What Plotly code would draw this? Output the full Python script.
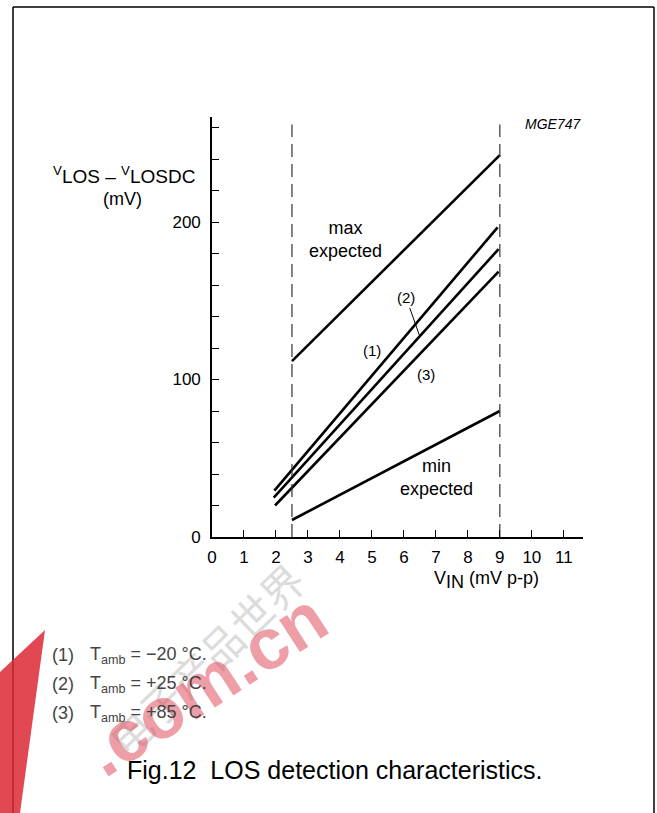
import plotly.graph_objects as go

# ---- data ----
x_curve1 = [1.95, 8.93]
y_curve1 = [29.4, 196.6]
x_curve2 = [1.93, 8.96]
y_curve2 = [25.0, 182.8]
x_curve3 = [1.97, 8.96]
y_curve3 = [20.0, 168.5]
x_max = [2.5, 9.0]
y_max = [111.7, 242.5]
x_min = [2.5, 9.0]
y_min = [10.8, 80.0]
limit_x = [2.5, 9.0]
limit_top = 262
x_ticks = list(range(0, 12))
y_ticks = [0, 100, 200]
legend_lines = ["(1)", "(2)", "(3)"]
legend_temps = ["\u221220", "+25", "+85"]

W, H = 657, 813
L, T = 212, 117
PW, PH = 371, 420
XR = [0, 11.6]
YR = [0, 266.7]


def px(x):
    """page pixel x -> paper x"""
    return (x - L) / PW


def py(y):
    """page pixel y -> paper y"""
    return (T + PH - y) / PH


FONT = "Arial, 'Liberation Sans', sans-serif"


def ptext(x, y, text, size, color="black", xanchor="center", **kw):
    return dict(xref="paper", yref="paper", x=px(x), y=py(y), text=text,
                showarrow=False, xanchor=xanchor, yanchor="middle",
                font=dict(size=size, family=FONT, color=color), **kw)


fig = go.Figure()
lw = 2.6
for xs, ys in [(x_curve1, y_curve1), (x_curve2, y_curve2), (x_curve3, y_curve3),
               (x_max, y_max), (x_min, y_min)]:
    fig.add_trace(go.Scatter(x=xs, y=ys, mode="lines",
                             line=dict(color="black", width=lw), showlegend=False))
for lx in limit_x:
    fig.add_trace(go.Scatter(x=[lx, lx], y=[0, limit_top], mode="lines",
                             line=dict(color="#333", width=1.2, dash="13px,7px"),
                             showlegend=False))

annotations = []
# watermark (drawn first, beneath text)
annotations.append(dict(xref="paper", yref="paper", x=px(205), y=py(658),
                        xanchor="center", yanchor="middle",
                        text="\u7535\u5b50\u4ea7\u54c1\u4e16\u754c", showarrow=False,
                        textangle=-44, opacity=0.25,
                        font=dict(size=42, family="'Noto Sans CJK SC'", color="#777")))
annotations.append(dict(xref="paper", yref="paper", x=px(205), y=py(684),
                        xanchor="center", yanchor="middle",
                        text="<b>.com.cn</b>", showarrow=False, textangle=-33,
                        opacity=0.55,
                        font=dict(size=72, family=FONT, color="#e0505e")))
# in-plot labels
annotations.append(dict(x=4.16, y=188.6, text="max<br>expected", showarrow=False,
                        font=dict(size=18, family=FONT, color="black")))
annotations.append(dict(x=7.03, y=37.5, text="min<br>expected", showarrow=False,
                        font=dict(size=18, family=FONT, color="black")))
annotations.append(dict(x=5.0, y=118.7, text="(1)", showarrow=False,
                        font=dict(size=15, family=FONT, color="black")))
annotations.append(dict(x=6.70, y=103.5, text="(3)", showarrow=False,
                        font=dict(size=15, family=FONT, color="black")))
annotations.append(dict(x=6.48, y=128.3, text="(2)", showarrow=True, arrowhead=0,
                        arrowwidth=1, arrowcolor="black", ax=-13, ay=-37,
                        font=dict(size=15, family=FONT, color="black")))
# outside texts
annotations.append(ptext(553, 124, "<i>MGE747</i>", 14))
annotations.append(ptext(124, 175, "<sup>V</sup>LOS \u2013 <sup>V</sup>LOSDC", 19))
annotations.append(ptext(122, 199, "(mV)", 18))
annotations.append(ptext(486, 580,
                         "V<sub><span style='font-size:18px'>IN</span></sub> (mV p-p)", 18))
for i, (lab, temp) in enumerate(zip(legend_lines, legend_temps)):
    yy = 655 + i * 29
    annotations.append(ptext(50, yy, lab, 18, color="#444", xanchor="left"))
    annotations.append(ptext(88, yy, "T<sub>amb</sub> = " + temp + " \u00b0C.", 18,
                             color="#444", xanchor="left"))
annotations.append(ptext(334, 770, "Fig.12  LOS detection characteristics.", 25))

shapes = [
    dict(type="line", xref="paper", yref="paper", x0=px(13), x1=px(654),
         y0=py(7), y1=py(7), line=dict(color="black", width=1.5)),
    dict(type="line", xref="paper", yref="paper", x0=px(13), x1=px(13),
         y0=py(7), y1=py(813), line=dict(color="black", width=1.5)),
    dict(type="line", xref="paper", yref="paper", x0=px(654), x1=px(654),
         y0=py(7), y1=py(813), line=dict(color="black", width=1.5)),
    dict(type="path", xref="paper", yref="paper",
         path=f"M {px(0)} {py(672)} L {px(45)} {py(630)} L {px(20)} {py(813)} L {px(0)} {py(813)} Z",
         fillcolor="rgba(220,40,50,0.85)", line=dict(width=0), layer="above"),
]

fig.update_layout(
    width=W, height=H,
    margin=dict(l=L, r=W - L - PW, t=T, b=H - T - PH),
    paper_bgcolor="white", plot_bgcolor="white",
    annotations=annotations, shapes=shapes,
    xaxis=dict(range=XR, tickvals=x_ticks, ticks="inside", ticklen=7, tickwidth=1.3,
               tickcolor="black", showline=True, linecolor="black", linewidth=1.6,
               showgrid=False, zeroline=False, ticklabelstandoff=4,
               tickfont=dict(size=17, family=FONT, color="black")),
    yaxis=dict(range=YR, tickvals=y_ticks, ticks="inside", ticklen=7, tickwidth=1.3,
               tickcolor="black", showline=True, linecolor="black", linewidth=1.6,
               showgrid=False, zeroline=False, ticklabelstandoff=6,
               minor=dict(dtick=20, tick0=0, ticks="inside", ticklen=7, tickwidth=1.3,
                          tickcolor="black", showgrid=False),
               tickfont=dict(size=17, family=FONT, color="black")),
)

fig.write_html("out.html", config={"displayModeBar": False},
               post_script="document.body.style.margin='0';document.body.style.overflow='hidden';")
